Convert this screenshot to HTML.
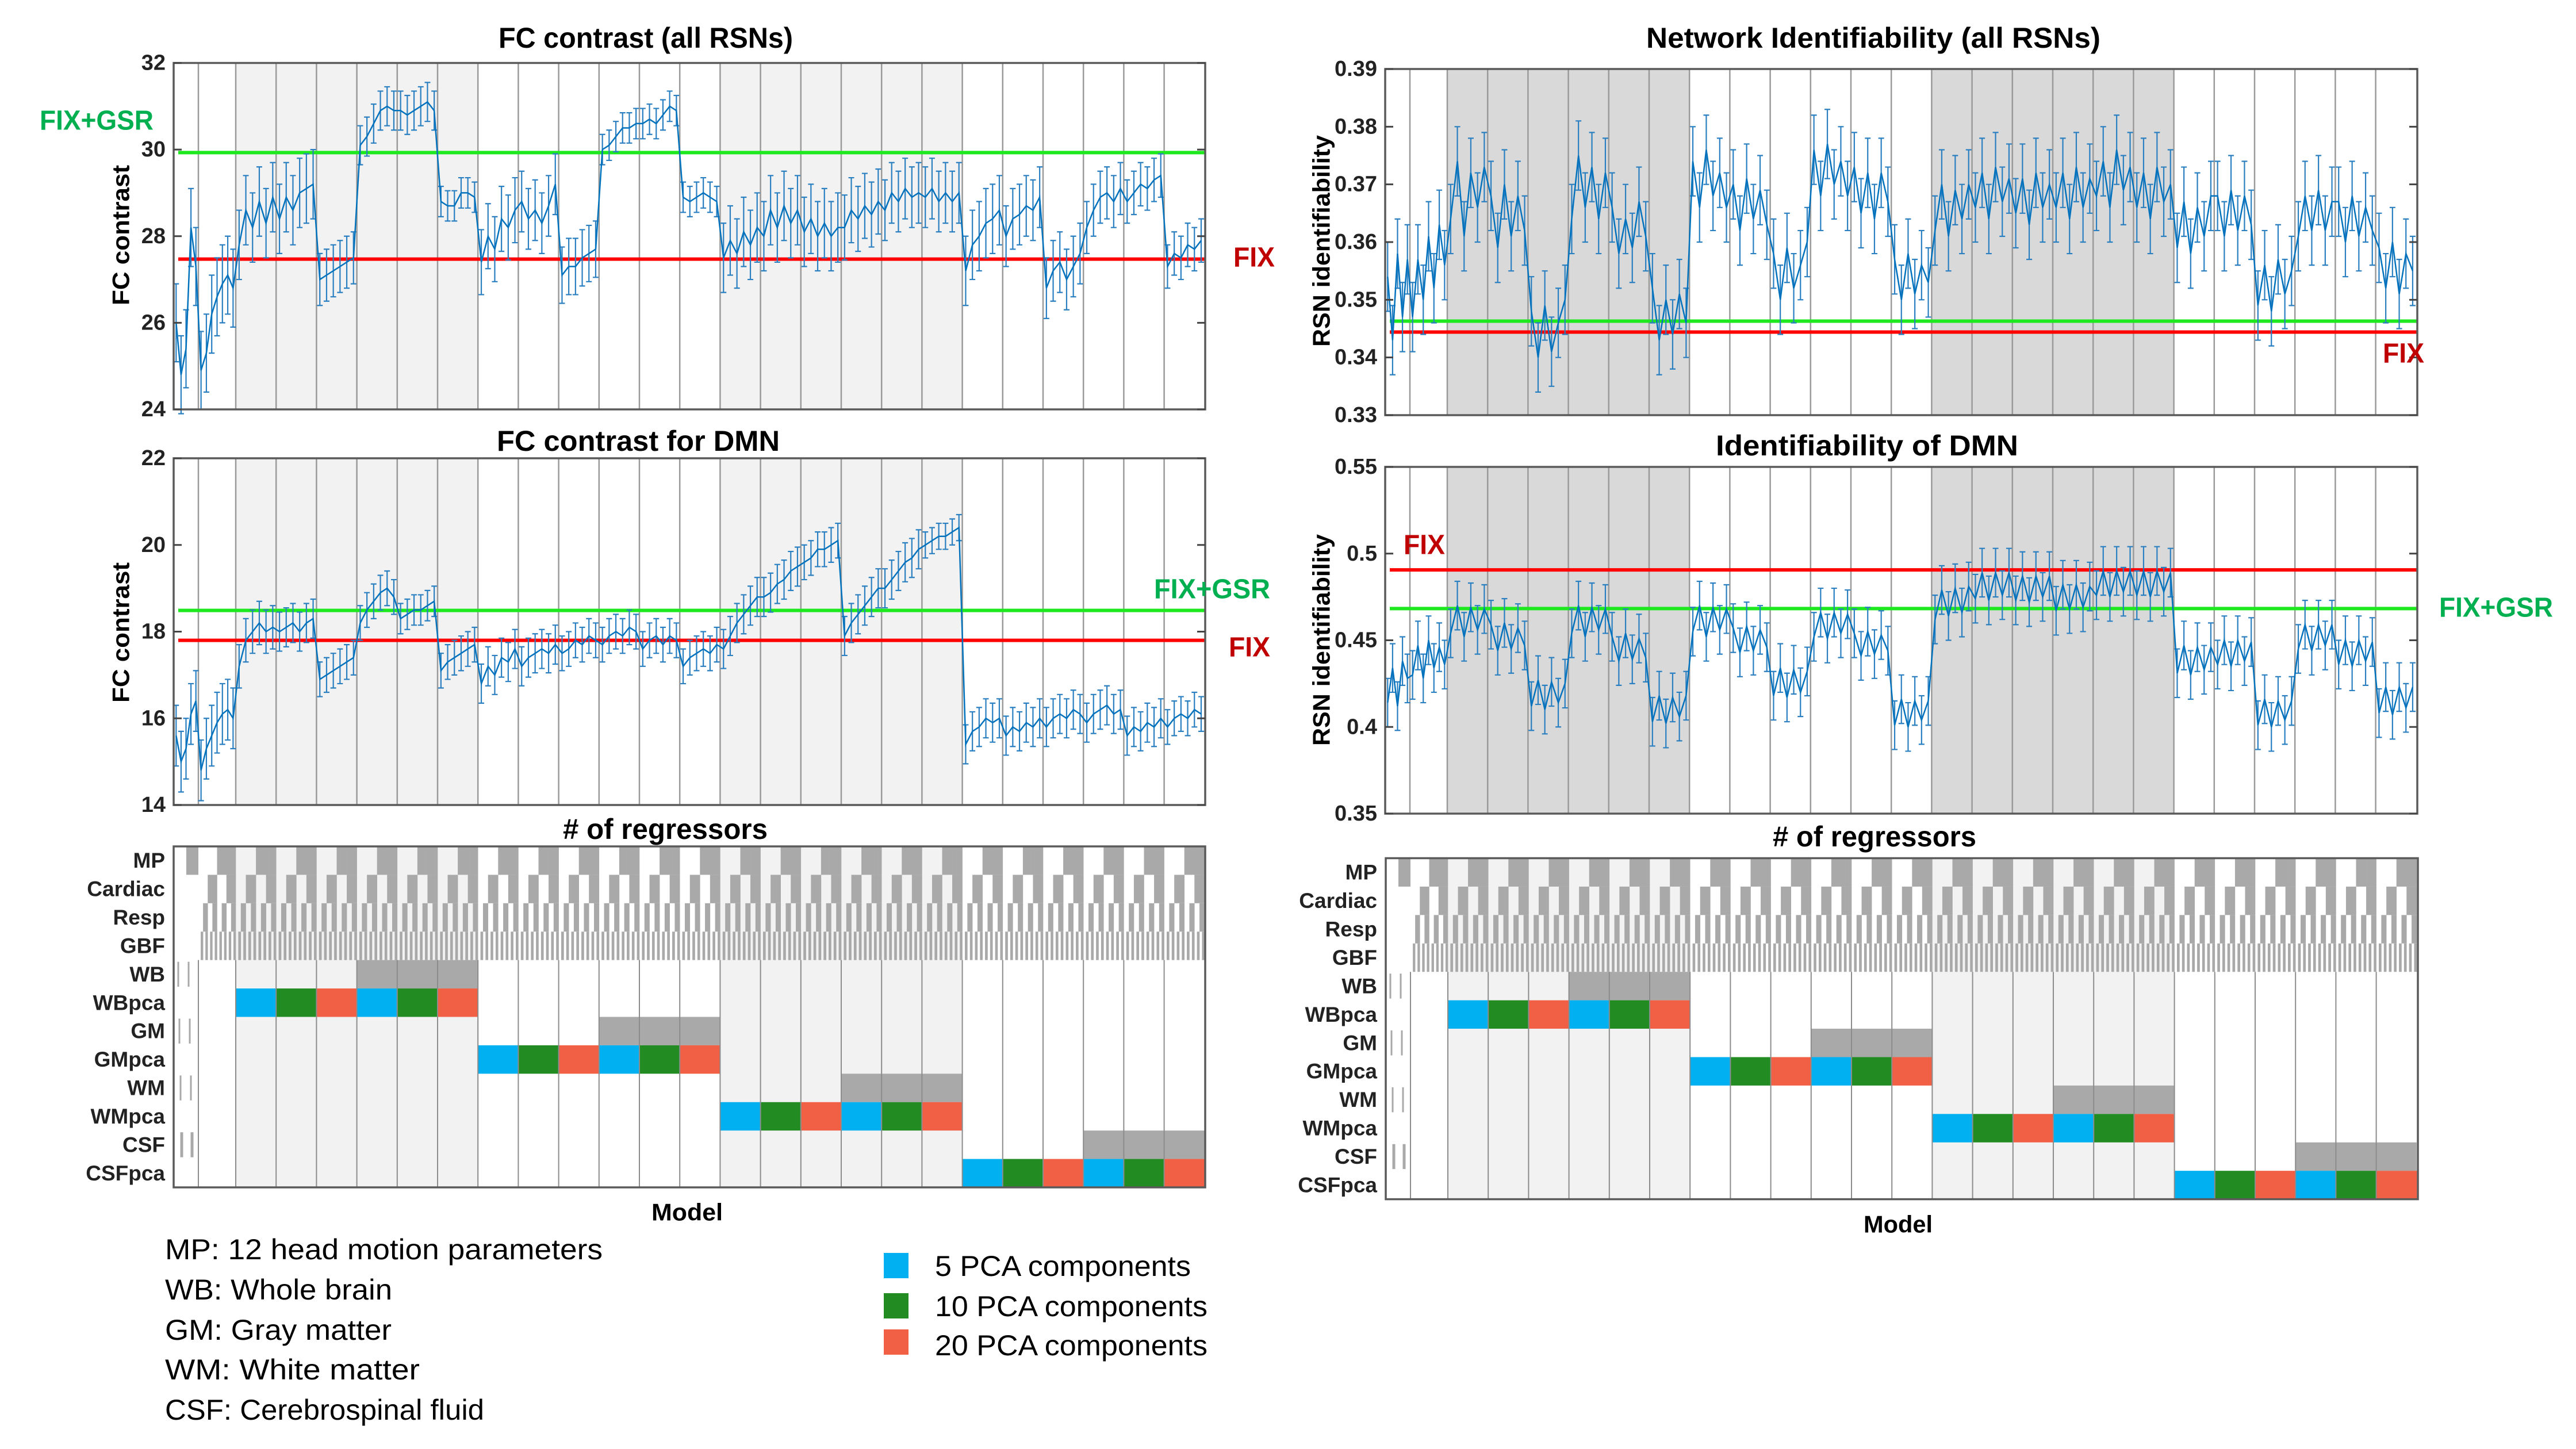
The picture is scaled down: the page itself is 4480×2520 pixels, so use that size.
<!DOCTYPE html>
<html><head><meta charset="utf-8"><style>
html,body{margin:0;padding:0;background:#fff;}
svg{display:block;font-family:"Liberation Sans",Arial,sans-serif;}
</style></head><body>
<svg id="fig" xmlns="http://www.w3.org/2000/svg" width="4480" height="2520" viewBox="0 0 4480 2520">
<rect x="0" y="0" width="4480" height="2520" fill="#fff"/>
<g id="layer"></g>
<g font-weight="bold" fill="#000">
<text x="1123" y="66" text-anchor="middle" dominant-baseline="central" font-size="50" textLength="512" lengthAdjust="spacingAndGlyphs">FC contrast (all RSNs)</text>
<text x="1110" y="767" text-anchor="middle" dominant-baseline="central" font-size="50" textLength="492" lengthAdjust="spacingAndGlyphs">FC contrast for DMN</text>
<text x="1157" y="1442" text-anchor="middle" dominant-baseline="central" font-size="50" textLength="356" lengthAdjust="spacingAndGlyphs"># of regressors</text>
<text x="3258" y="66" text-anchor="middle" dominant-baseline="central" font-size="50" textLength="790" lengthAdjust="spacingAndGlyphs">Network Identifiability (all RSNs)</text>
<text x="3247" y="775" text-anchor="middle" dominant-baseline="central" font-size="50" textLength="526" lengthAdjust="spacingAndGlyphs">Identifiability of DMN</text>
<text x="3260" y="1455" text-anchor="middle" dominant-baseline="central" font-size="50" textLength="354" lengthAdjust="spacingAndGlyphs"># of regressors</text>
<text x="1195" y="2108" text-anchor="middle" dominant-baseline="central" font-size="42" textLength="124" lengthAdjust="spacingAndGlyphs">Model</text>
<text x="3301" y="2129" text-anchor="middle" dominant-baseline="central" font-size="42" textLength="120" lengthAdjust="spacingAndGlyphs">Model</text>
<text transform="translate(210,409) rotate(-90)" text-anchor="middle" dominant-baseline="central" font-size="42" textLength="244" lengthAdjust="spacingAndGlyphs">FC contrast</text>
<text transform="translate(210,1100) rotate(-90)" text-anchor="middle" dominant-baseline="central" font-size="42" textLength="244" lengthAdjust="spacingAndGlyphs">FC contrast</text>
<text transform="translate(2298,419) rotate(-90)" text-anchor="middle" dominant-baseline="central" font-size="42" textLength="368" lengthAdjust="spacingAndGlyphs">RSN identifiability</text>
<text transform="translate(2298,1113) rotate(-90)" text-anchor="middle" dominant-baseline="central" font-size="42" textLength="368" lengthAdjust="spacingAndGlyphs">RSN identifiability</text>
<text x="69" y="210" dominant-baseline="central" font-size="48" fill="#00b050" textLength="198" lengthAdjust="spacingAndGlyphs">FIX+GSR</text>
<text x="2145" y="448" dominant-baseline="central" font-size="48" fill="#c00000" textLength="72" lengthAdjust="spacingAndGlyphs">FIX</text>
<text x="2007" y="1025" dominant-baseline="central" font-size="48" fill="#00b050" textLength="202" lengthAdjust="spacingAndGlyphs">FIX+GSR</text>
<text x="2137" y="1126" dominant-baseline="central" font-size="48" fill="#c00000" textLength="72" lengthAdjust="spacingAndGlyphs">FIX</text>
<text x="4144" y="615" dominant-baseline="central" font-size="48" fill="#c00000" textLength="72" lengthAdjust="spacingAndGlyphs">FIX</text>
<text x="2441" y="948" dominant-baseline="central" font-size="48" fill="#c00000" textLength="72" lengthAdjust="spacingAndGlyphs">FIX</text>
<text x="4242" y="1057" dominant-baseline="central" font-size="48" fill="#00b050" textLength="198" lengthAdjust="spacingAndGlyphs">FIX+GSR</text>
</g>
<g font-size="50" fill="#000">
<text x="287" y="2173" dominant-baseline="central" textLength="761" lengthAdjust="spacingAndGlyphs">MP: 12 head motion parameters</text>
<text x="287" y="2243" dominant-baseline="central" textLength="395" lengthAdjust="spacingAndGlyphs">WB: Whole brain</text>
<text x="287" y="2313" dominant-baseline="central" textLength="394" lengthAdjust="spacingAndGlyphs">GM: Gray matter</text>
<text x="287" y="2382" dominant-baseline="central" textLength="443" lengthAdjust="spacingAndGlyphs">WM: White matter</text>
<text x="287" y="2452" dominant-baseline="central" textLength="555" lengthAdjust="spacingAndGlyphs">CSF: Cerebrospinal fluid</text>
<rect x="1537" y="2179" width="43" height="44" fill="#00b0f0"/>
<rect x="1537" y="2249" width="43" height="44" fill="#228b22"/>
<rect x="1537" y="2312" width="43" height="44" fill="#f15f45"/>
<text x="1626" y="2202" dominant-baseline="central" textLength="445" lengthAdjust="spacingAndGlyphs">5 PCA components</text>
<text x="1626" y="2272" dominant-baseline="central" textLength="474" lengthAdjust="spacingAndGlyphs">10 PCA components</text>
<text x="1626" y="2340" dominant-baseline="central" textLength="474" lengthAdjust="spacingAndGlyphs">20 PCA components</text>
</g>
</svg>
<script>
// ---- data ----
const modelsPerColumn = [5,7,6,6,6,6,6,6,6,6,6,6,6,6,6,6,6,6,6,6,6,6,6,6,6,6];
const fcAllValues = [
26.0,24.8,25.4,28.2,27.3,
24.9,25.3,26.2,26.6,26.9,27.1,26.8,
27.8,28.6,28.2,28.8,28.3,28.9,
28.4,28.9,28.6,29.0,29.1,29.2,
27.0,27.1,27.2,27.3,27.4,27.5,
30.1,30.3,30.6,30.9,31.0,30.9,
30.9,30.8,30.9,31.0,31.1,30.9,
28.8,28.7,28.7,29.0,29.0,28.9,
27.4,28.0,27.7,28.4,28.2,28.6,
28.8,28.4,28.6,28.3,28.7,29.2,
27.1,27.3,27.3,27.5,27.6,27.7,
30.0,30.1,30.3,30.5,30.5,30.6,
30.6,30.7,30.6,30.8,31.0,30.9,
28.9,28.8,28.9,29.0,28.9,28.8,
27.5,27.9,27.6,28.1,27.8,28.2,
28.0,28.6,28.2,28.7,28.3,28.6,
28.1,28.4,28.0,28.3,28.0,28.2,
28.2,28.6,28.4,28.7,28.5,28.8,
28.6,29.0,28.8,29.1,28.9,29.0,
28.9,29.1,28.8,29.0,28.8,29.0,
27.2,27.8,28.0,28.3,28.4,28.6,
28.0,28.4,28.5,28.7,28.6,28.9,
26.8,27.2,27.4,27.0,27.3,27.6,
28.2,28.6,28.9,29.0,28.8,29.1,
28.8,29.0,29.2,29.1,29.3,29.4,
27.3,27.6,27.5,27.8,27.7,27.9];
const fcAllErr = [0.9,0.9,0.8,0.8,0.6,0.45,0.45,0.35,0.75,0.7,0.65,0.35,0.35,0.35,0.8,0.8,0.8,0.75,0.7,0.7,0.8,0.7,0.7,0.6,0.5,0.5];
const fcDmnValues = [
15.6,15.0,15.3,16.1,16.4,
14.8,15.3,15.6,15.9,16.1,16.2,16.0,
17.2,17.8,18.0,18.2,18.0,18.1,
18.0,18.1,18.2,18.0,18.2,18.3,
16.9,17.0,17.1,17.2,17.3,17.4,
18.2,18.5,18.7,18.9,19.0,18.8,
18.3,18.4,18.5,18.5,18.6,18.7,
17.1,17.3,17.4,17.5,17.6,17.7,
16.8,17.2,17.0,17.4,17.3,17.6,
17.2,17.4,17.5,17.6,17.5,17.7,
17.5,17.6,17.8,17.7,17.9,17.8,
17.7,17.9,18.0,17.9,18.1,18.0,
17.6,17.8,17.9,17.7,17.9,17.8,
17.2,17.4,17.5,17.6,17.5,17.7,
17.6,17.9,18.2,18.4,18.6,18.8,
18.8,18.9,19.1,19.2,19.4,19.5,
19.6,19.7,19.9,19.9,20.0,20.1,
17.9,18.2,18.4,18.6,18.8,19.0,
19.0,19.2,19.4,19.6,19.7,19.9,
20.0,20.1,20.2,20.2,20.3,20.4,
15.4,15.7,15.8,16.0,15.9,16.0,
15.6,15.8,15.7,15.9,15.8,16.0,
15.8,16.0,16.1,16.0,16.2,16.1,
15.9,16.1,16.2,16.3,16.1,16.2,
15.6,15.8,15.7,15.9,15.8,16.0,
15.8,16.0,16.1,16.0,16.2,16.1];
const fcDmnErr = [0.7,0.7,0.5,0.45,0.4,0.4,0.35,0.4,0.45,0.45,0.4,0.4,0.4,0.4,0.45,0.45,0.4,0.45,0.45,0.3,0.45,0.45,0.45,0.45,0.45,0.4];
const idAllValues = [
0.354,0.343,0.358,0.347,0.357,
0.347,0.357,0.350,0.361,0.352,0.363,0.356,
0.364,0.374,0.361,0.372,0.366,0.373,
0.368,0.359,0.370,0.361,0.368,0.362,
0.348,0.340,0.349,0.341,0.346,0.350,
0.364,0.375,0.366,0.373,0.364,0.372,
0.366,0.358,0.364,0.359,0.367,0.361,
0.352,0.343,0.350,0.344,0.351,0.346,
0.374,0.366,0.376,0.368,0.372,0.366,
0.370,0.362,0.371,0.364,0.369,0.363,
0.358,0.350,0.359,0.352,0.356,0.360,
0.376,0.368,0.377,0.370,0.374,0.368,
0.373,0.365,0.372,0.364,0.372,0.367,
0.357,0.350,0.358,0.351,0.356,0.353,
0.362,0.370,0.361,0.369,0.364,0.370,
0.366,0.372,0.364,0.373,0.367,0.371,
0.365,0.371,0.363,0.372,0.366,0.370,
0.366,0.372,0.364,0.373,0.366,0.371,
0.368,0.374,0.366,0.376,0.369,0.373,
0.366,0.372,0.364,0.373,0.367,0.370,
0.359,0.367,0.358,0.366,0.361,0.368,
0.368,0.361,0.369,0.362,0.368,0.363,
0.349,0.356,0.348,0.357,0.351,0.355,
0.361,0.368,0.362,0.369,0.362,0.367,
0.367,0.360,0.368,0.361,0.366,0.362,
0.359,0.352,0.360,0.351,0.358,0.355];
const idAllErr = [0.006,0.006,0.006,0.006,0.006,0.006,0.006,0.006,0.006,0.006,0.006,0.006,0.006,0.006,0.006,0.006,0.006,0.006,0.006,0.006,0.006,0.006,0.006,0.006,0.006,0.006];
const idDmnValues = [
0.414,0.434,0.412,0.438,0.428,
0.430,0.447,0.428,0.450,0.434,0.446,0.436,
0.454,0.470,0.452,0.469,0.456,0.468,
0.459,0.444,0.460,0.445,0.457,0.447,
0.412,0.427,0.410,0.426,0.414,0.425,
0.454,0.470,0.452,0.469,0.456,0.468,
0.452,0.438,0.454,0.439,0.451,0.440,
0.403,0.418,0.402,0.417,0.406,0.418,
0.455,0.470,0.452,0.469,0.456,0.468,
0.457,0.443,0.458,0.444,0.456,0.446,
0.418,0.434,0.417,0.433,0.420,0.432,
0.452,0.466,0.451,0.466,0.454,0.465,
0.454,0.441,0.455,0.442,0.453,0.444,
0.401,0.416,0.400,0.415,0.404,0.415,
0.462,0.479,0.464,0.480,0.466,0.481,
0.474,0.489,0.473,0.489,0.476,0.489,
0.473,0.487,0.472,0.487,0.475,0.487,
0.467,0.482,0.468,0.482,0.469,0.481,
0.476,0.490,0.475,0.490,0.478,0.490,
0.476,0.490,0.475,0.490,0.478,0.489,
0.431,0.447,0.430,0.446,0.433,0.446,
0.436,0.450,0.435,0.450,0.438,0.449,
0.401,0.416,0.400,0.415,0.404,0.415,
0.445,0.459,0.444,0.459,0.447,0.459,
0.436,0.450,0.435,0.450,0.438,0.449,
0.408,0.423,0.407,0.423,0.411,0.423];
const idDmnErr = [0.014,0.014,0.014,0.014,0.014,0.014,0.014,0.014,0.014,0.014,0.014,0.014,0.014,0.014,0.014,0.014,0.014,0.014,0.014,0.014,0.014,0.014,0.014,0.014,0.014,0.014];
const fcAllTicks = [24,26,28,30,32];
const fcDmnTicks = [14,16,18,20,22];
const idAllTicks = [0.33,0.34,0.35,0.36,0.37,0.38,0.39];
const idDmnTicks = [0.35,0.4,0.45,0.5,0.55];
const fcAllTickLabels = ['24','26','28','30','32'];
const fcDmnTickLabels = ['14','16','18','20','22'];
const idAllTickLabels = ['0.33','0.34','0.35','0.36','0.37','0.38','0.39'];
const idDmnTickLabels = ['0.35','0.4','0.45','0.5','0.55'];
const fixLevels = [27.47, 17.8, 0.3444, 0.4906];
const gsrLevels = [29.93, 18.49, 0.3463, 0.4683];
const rowLabels = ['MP','Cardiac','Resp','GBF','WB','WBpca','GM','GMpca','WM','WMpca','CSF','CSFpca'];
const grayBlocks = [[4,5],[4,6],[4,7],[6,11],[6,12],[6,13],[8,17],[8,18],[8,19],[10,23],[10,24],[10,25]];
const pcaBlocks = [[5,2,0],[5,3,1],[5,4,2],[5,5,0],[5,6,1],[5,7,2],[7,8,0],[7,9,1],[7,10,2],[7,11,0],[7,12,1],[7,13,2],[9,14,0],[9,15,1],[9,16,2],[9,17,0],[9,18,1],[9,19,2],[11,20,0],[11,21,1],[11,22,2],[11,23,0],[11,24,1],[11,25,2]];
const pcaColors = ['#00b0f0','#228b22','#f15f45'];

// ---- drawing ----
const NS='http://www.w3.org/2000/svg';
const layer=document.getElementById('layer');
function mk(tag,attrs,parent){const e=document.createElementNS(NS,tag);for(const k in attrs)e.setAttribute(k,attrs[k]);(parent||layer).appendChild(e);return e;}
function colBounds(left){const b=[];b.push([left,43]);b.push([left+43,65]);for(let k=2;k<26;k++)b.push([left+108+70.2*(k-2),70.2]);return b;}
const shadeCols=[2,3,4,5,6,7,14,15,16,17,18,19];

const charts=[
 {name:'fc-all',L:302,R:2096,T:109.5,B:712,min:24,max:32,ticks:fcAllTicks,labels:fcAllTickLabels,vals:fcAllValues,err:fcAllErr,shade:'#f2f2f2',k:0},
 {name:'fc-dmn',L:302,R:2096,T:797,B:1400,min:14,max:22,ticks:fcDmnTicks,labels:fcDmnTickLabels,vals:fcDmnValues,err:fcDmnErr,shade:'#f2f2f2',k:1},
 {name:'id-all',L:2409,R:4204,T:120,B:722,min:0.33,max:0.39,ticks:idAllTicks,labels:idAllTickLabels,vals:idAllValues,err:idAllErr,shade:'#d9d9d9',k:2},
 {name:'id-dmn',L:2409,R:4204,T:812,B:1415,min:0.35,max:0.55,ticks:idDmnTicks,labels:idDmnTickLabels,vals:idDmnValues,err:idDmnErr,shade:'#d9d9d9',k:3}
];
charts.forEach(c=>{
 const g=mk('g',{});
 
 
 const y=v=>c.B-(v-c.min)/(c.max-c.min)*(c.B-c.T);
 const cb=colBounds(c.L);
 shadeCols.forEach(k=>{
  const r=mk('rect',{x:cb[k][0],y:c.T,width:cb[k][1],height:c.B-c.T,fill:c.shade},g);
  
  
 });
 for(let k=1;k<26;k++){
  const l=mk('line',{x1:cb[k][0],x2:cb[k][0],y1:c.T,y2:c.B,stroke:'#9a9a9a','stroke-width':2.5},g);
  
  
 }
 const fl=mk('line',{x1:c.L+8,x2:c.R,y1:y(fixLevels[c.k]),y2:y(fixLevels[c.k]),stroke:'#ff0000','stroke-width':6},g);
 
 
 const gl=mk('line',{x1:c.L+8,x2:c.R,y1:y(gsrLevels[c.k]),y2:y(gsrLevels[c.k]),stroke:'#1ee81e','stroke-width':6},g);
 
 
 const pts=[];let idx=0;
 modelsPerColumn.forEach((n,k)=>{for(let j=0;j<n;j++){pts.push([cb[k][0]+(j+0.5)*cb[k][1]/n,c.vals[idx],c.err[k]]);idx++;}});
 const eb=mk('g',{stroke:'#2a7fc0','stroke-width':2.2},g);
 
 
 pts.forEach(p=>{
  const x=p[0],y1=y(p[1]-p[2]),y2=y(p[1]+p[2]);
  const e=mk('path',{d:`M${x},${y1}V${y2}M${x-5},${y1}H${x+5}M${x-5},${y2}H${x+5}`,fill:'none'},eb);
  
  
 });
 const pl=mk('polyline',{points:pts.map(p=>p[0].toFixed(1)+','+y(p[1]).toFixed(1)).join(' '),fill:'none',stroke:'#0072bd','stroke-width':2.5},g);
 
 
 const fr=mk('rect',{x:c.L,y:c.T,width:c.R-c.L,height:c.B-c.T,fill:'none',stroke:'#5a5a5a','stroke-width':3.5},g);
 
 
 c.ticks.forEach((t,i)=>{
  const tk=mk('path',{d:`M${c.L},${y(t)}h14M${c.R},${y(t)}h-14`,stroke:'#444','stroke-width':3},g);
  
  
  const tl=mk('text',{x:c.L-14,y:y(t),'text-anchor':'end','dominant-baseline':'central','font-size':38,'font-weight':'bold',fill:'#222'},g);
  tl.textContent=c.labels[i];
  
  
 });
});

[{L:302,R:2096,T:1472,B:2065,name:'regressor-matrix-left'},{L:2410,R:4205,T:1492.5,B:2085.6,name:'regressor-matrix-right'}].forEach(m=>{
 const g=mk('g',{});
 
 
 const rh=(m.B-m.T)/12;
 const cb=colBounds(m.L);
 shadeCols.forEach(k=>{
  const r=mk('rect',{x:cb[k][0],y:m.T,width:cb[k][1],height:m.B-m.T,fill:'#f2f2f2'},g);
  
  
 });
 for(let k=1;k<26;k++){
  const w=cb[k][1]/16;
  for(let j=0;j<16;j++){
   for(let r=0;r<4;r++){
    const bit=(j>>(3-r))&1;
    if(bit){
     const cell=mk('rect',{x:cb[k][0]+j*w,y:m.T+r*rh,width:w+0.3,height:rh,fill:'#a9a9a9'},g);
     
     
    }
   }
  }
 }
 const mp0=mk('rect',{x:cb[0][0]+22,y:m.T,width:21,height:rh,fill:'#a9a9a9'},g);
 
 
 [4,6,8,10].forEach((r,i)=>{
  [8+i*2,26+i*2].forEach(dx=>{
   const l=mk('line',{x1:cb[0][0]+dx,x2:cb[0][0]+dx,y1:m.T+r*rh+3,y2:m.T+(r+1)*rh-3,stroke:'#a9a9a9','stroke-width':r==10?5:3},g);
   
   
  });
 });
 grayBlocks.forEach(b=>{
  const r=mk('rect',{x:cb[b[1]][0],y:m.T+b[0]*rh,width:cb[b[1]][1],height:rh,fill:'#a9a9a9'},g);
  
  
 });
 pcaBlocks.forEach(b=>{
  const r=mk('rect',{x:cb[b[1]][0],y:m.T+b[0]*rh,width:cb[b[1]][1]+0.5,height:rh,fill:pcaColors[b[2]]},g);
  
  
 });
 for(let k=1;k<26;k++){
  const l=mk('line',{x1:cb[k][0],x2:cb[k][0],y1:m.T+4*rh,y2:m.B,stroke:'#8c8c8c','stroke-width':2},g);
  
  
 }
 const fr=mk('rect',{x:m.L,y:m.T,width:m.R-m.L,height:m.B-m.T,fill:'none',stroke:'#5a5a5a','stroke-width':3.5},g);
 
 
 rowLabels.forEach((t,r)=>{
  const tl=mk('text',{x:m.L-15,y:m.T+(r+0.5)*rh,'text-anchor':'end','dominant-baseline':'central','font-size':37,'font-weight':'bold',fill:'#222'},g);
  tl.textContent=t;
  
  
 });
});
</script>
</body></html>
